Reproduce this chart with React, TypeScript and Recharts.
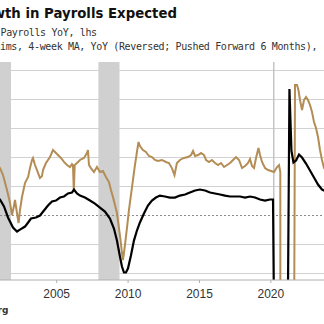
import React from 'react';
import { LineChart, Line, XAxis, YAxis, ReferenceLine, ReferenceArea, CartesianGrid } from 'recharts';

// Nonfarm payrolls YoY (%), lhs
const payrollDates = [
  2000.68, 2001.03, 2001.31, 2001.59, 2001.94, 2002.22, 2002.43, 2002.78, 2003.0, 2003.2,
  2003.55, 2003.83, 2004.11, 2004.39, 2004.67, 2004.95, 2005.23, 2005.51, 2005.79, 2006.07,
  2006.21, 2006.42, 2006.63, 2006.98, 2007.33, 2007.68, 2008.03, 2008.38, 2008.73, 2009.01,
  2009.22, 2009.43, 2009.57, 2009.71, 2009.85, 2009.99, 2010.2, 2010.41, 2010.62, 2010.83,
  2011.11, 2011.39, 2011.67, 2011.95, 2012.23, 2012.58, 2012.93, 2013.28, 2013.63, 2013.99,
  2014.33, 2014.69, 2015.03, 2015.39, 2015.74, 2016.09, 2016.44, 2016.79, 2017.14, 2017.49,
  2017.84, 2018.19, 2018.54, 2018.89, 2019.24, 2019.59, 2019.94, 2020.15, 2020.25, 2020.33,
  2020.5, 2020.75, 2021.0, 2021.2, 2021.3, 2021.44, 2021.58, 2021.76, 2021.97, 2022.18,
  2022.46, 2022.74, 2023.02, 2023.3, 2023.58, 2024.0,
];
const payrollYoY = [
  1.64, 1.38, 0.78, -0.17, -1.03, -1.38, -1.21, -0.95, -0.6, -0.26,
  -0.17, 0.0, 0.43, 0.86, 1.21, 1.29, 1.55, 1.64, 1.9, 1.98,
  2.24, 1.9, 1.72, 1.55, 1.29, 1.03, 0.69, 0.34, -0.26, -1.12,
  -2.16, -3.53, -4.4, -4.91, -4.91, -4.57, -3.45, -2.16, -1.29, -0.6,
  0.17, 0.86, 1.29, 1.55, 1.72, 1.64, 1.55, 1.55, 1.72, 1.81,
  1.98, 2.16, 2.24, 2.16, 1.98, 1.9, 1.81, 1.72, 1.64, 1.64,
  1.64, 1.55, 1.64, 1.55, 1.38, 1.29, 1.38, 1.38, -13.0, -11.5,
  -7.8, -6.3, -6.1, -6.0, 10.9, 5.6, 4.57, 4.74, 5.26, 5.0,
  4.48, 3.88, 3.28, 2.67, 2.24, 1.98,
];

// Initial jobless claims, 4-week MA, YoY (%), reversed, pushed forward 6 months, rhs
const claimsDates = [
  2000.68, 2001.03, 2001.24, 2001.52, 2001.73, 2001.87, 2001.98, 2002.08, 2002.22, 2002.33,
  2002.43, 2002.57, 2002.78, 2003.0, 2003.13, 2003.27, 2003.34, 2003.48, 2003.62, 2003.83,
  2003.97, 2004.04, 2004.25, 2004.53, 2004.74, 2004.88, 2005.09, 2005.3, 2005.51, 2005.72,
  2005.93, 2006.07, 2006.14, 2006.2, 2006.26, 2006.42, 2006.63, 2006.91, 2007.12, 2007.19,
  2007.26, 2007.4, 2007.61, 2007.82, 2008.03, 2008.24, 2008.45, 2008.66, 2008.8, 2008.94,
  2009.08, 2009.22, 2009.36, 2009.47, 2009.57, 2009.64, 2009.71, 2009.78, 2009.92, 2010.06,
  2010.2, 2010.34, 2010.48, 2010.62, 2010.73, 2010.83, 2011.04, 2011.25, 2011.46, 2011.67,
  2011.88, 2012.09, 2012.37, 2012.65, 2012.86, 2013.07, 2013.25, 2013.42, 2013.63, 2013.91,
  2014.2, 2014.41, 2014.55, 2014.69, 2014.9, 2015.11, 2015.32, 2015.46, 2015.67, 2015.87,
  2016.09, 2016.3, 2016.51, 2016.72, 2016.93, 2017.14, 2017.35, 2017.56, 2017.77, 2017.98,
  2018.19, 2018.4, 2018.54, 2018.68, 2018.82, 2018.96, 2019.13, 2019.24, 2019.38, 2019.59,
  2019.8, 2020.01, 2020.22, 2020.43, 2020.57, 2020.66, 2020.72, 2020.8, 2021.0, 2021.3,
  2021.5, 2021.63, 2021.69, 2021.83, 2021.93, 2022.04, 2022.18, 2022.32, 2022.46, 2022.6,
  2022.74, 2022.88, 2023.02, 2023.16, 2023.3, 2023.44, 2023.58, 2023.72, 2024.0,
];
const claimsYoY = [
  -1, 4.8, 11.4, 25.7, 38.1, 49.5, 42.9, 35.2, 47.6, 57.1,
  44.8, 32.4, 19, 13.3, 4.8, -2.9, -4.8, 1.9, 6.7, 14.3,
  12.4, 6.7, 0, -5.7, -12.4, -10.5, -7.6, -4.8, -1, 1.9,
  3.8, 1, 2, 27.6, 2, 0, -2.9, -4.8, -9.5, -12.4,
  1.9, 4.8, 8.6, 3.8, 8.6, 7.6, 13.3, 18.1, 25.7, 32.4,
  40, 47.6, 61.9, 73.3, 85.7, 92.4, 85.7, 78.1, 61.9, 44.8,
  30.5, 16.2, 1.9, -10.5, -20, -16.2, -12.4, -10.5, -6.7, -5.7,
  -2.9, -1.9, -2.9, -1, 0, 4.8, 11.4, 0, -2.9, -4.8,
  -5.7, -7.6, -11.4, -6.7, -7.6, -9.5, -7.6, -2.9, -1, -2.9,
  0, 1.9, 0, 3.8, 1.9, 0, -2.9, -5.7, -2.9, 4.8,
  2.9, 0, -3.8, 2.9, 4.8, -4.8, -14.3, -7.6, -1, 4.8,
  6.7, 7.6, 8.6, 3.8, 1.9, 8.6, 1500, 2500, 1200, 600,
  300, 150, -74.3, -74.3, -69.5, -60, -50.5, -60, -62.9, -60,
  -55.2, -48.6, -39, -33.3, -24.8, -12.4, -2.9, 4.8, 8.6,
];

const yearTicks = [2005, 2010, 2015, 2020];
const gridValues = [-5, -2.5, 2.5, 5, 7.5, 10, 12.5];
const recessionStarts = [2000.9, 2007.92];
const recessionEnds = [2001.8, 2009.4];
const covidRecession = 2020.2;

const titleText = 'Slower Growth in Payrolls Expected';
const legendPayrolls = 'Nonfarm Payrolls YoY, lhs';
const legendClaims = 'Initial Jobless Claims, 4-week MA, YoY (Reversed; Pushed Forward 6 Months), rhs';
const sourceText = 'Source: Bloomberg';

const payrollData = payrollDates.map((t, i) => ({ t, v: payrollYoY[i] }));
const claimsData = claimsDates.map((t, i) => ({ t, v: claimsYoY[i] }));

const GOLD = '#B38D55';

export default function App() {
  return (
    <div style={{ position: 'absolute', left: 0, top: 0, width: 324, height: 324, overflow: 'hidden', background: '#fff' }}>
      <LineChart width={324} height={324} margin={{ top: 62, right: 0, bottom: 14, left: 0 }}>
        <XAxis
          type="number"
          dataKey="t"
          domain={[2001.03, 2023.72]}
          allowDataOverflow
          ticks={yearTicks}
          height={30}
          tickSize={3}
          tickMargin={6.5}
          axisLine={{ stroke: '#b0b0b0' }}
          tickLine={{ stroke: '#b0b0b0' }}
          tick={{ fontSize: 12, fill: '#333', fontFamily: 'Liberation Sans, Arial, sans-serif' }}
        />
        <YAxis yAxisId="left" hide domain={[-5.557, 13.233]} allowDataOverflow type="number" ticks={gridValues} />
        <YAxis yAxisId="right" orientation="right" hide reversed domain={[-96.2, 111.4]} allowDataOverflow type="number" />
        {recessionStarts.map((s, i) => (
          <ReferenceArea key={'r' + i} yAxisId="left" x1={s} x2={recessionEnds[i]} fill="#d0d0d0" fillOpacity={1} stroke="none" ifOverflow="hidden" />
        ))}
        <CartesianGrid
          yAxisId="left"
          vertical={false}
          horizontalValues={gridValues}
          stroke="#d2d2d2"
          strokeWidth={1}
        />
        <ReferenceLine yAxisId="left" y={0} stroke="#8a8a8a" strokeWidth={1} strokeDasharray="2 2" />
        <ReferenceLine yAxisId="left" x={covidRecession} stroke="#c4c4c8" strokeWidth={1.5} />
        <Line
          yAxisId="right"
          data={claimsData}
          dataKey="v"
          stroke={GOLD}
          strokeWidth={2}
          dot={false}
          isAnimationActive={false}
          type="linear"
        />
        <Line
          yAxisId="left"
          data={payrollData}
          dataKey="v"
          stroke="#000"
          strokeWidth={2.2}
          dot={false}
          isAnimationActive={false}
          type="linear"
        />
      </LineChart>
      <svg width={324} height={324} style={{ position: 'absolute', left: 0, top: 0, pointerEvents: 'none' }}>
        <text x={177} y={17.5} textAnchor="end" fontFamily="DejaVu Sans, Verdana, sans-serif" fontWeight="bold" fontSize={13.3} fill="#111">
          {titleText}
        </text>
        <text x={-44.8} y={36} fontFamily="DejaVu Sans Mono, monospace" fontSize={10} letterSpacing={-0.36} fill="#333">
          {legendPayrolls}
        </text>
        <text x={-107.5} y={50} fontFamily="DejaVu Sans Mono, monospace" fontSize={10} letterSpacing={-0.36} fill="#333">
          {legendClaims}
        </text>
        <text x={8.5} y={313} textAnchor="end" fontFamily="DejaVu Sans, Verdana, sans-serif" fontWeight="bold" fontSize={9} fill="#333">
          {sourceText}
        </text>
      </svg>
    </div>
  );
}
